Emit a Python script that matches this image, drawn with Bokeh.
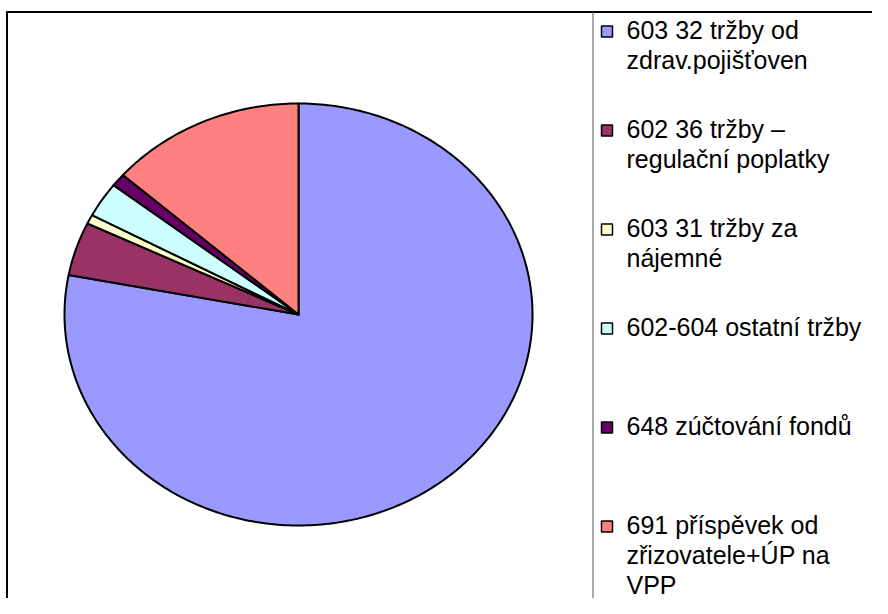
import numpy as np
from bokeh.plotting import figure
from bokeh.models import Range1d
from bokeh.core.properties import value
from bokeh.embed import file_html
from bokeh.resources import INLINE

# ---- data ----
categories = [
    "603 32 tržby od\nzdrav.pojišťoven",
    "602 36 tržby –\nregulační poplatky",
    "603 31 tržby za\nnájemné",
    "602-604 ostatní tržby",
    "648 zúčtování fondů",
    "691 příspěvek od\nzřizovatele+ÚP na\nVPP",
]
shares = [78.0, 4.1, 0.7, 2.7, 1.0, 13.5]
colors = ["#9999FF", "#993366", "#FFFFCC", "#CCFFFF", "#660066", "#FF8080"]

W, H = 872, 598
p = figure(width=W, height=H, output_backend="svg", toolbar_location=None,
           x_range=Range1d(0, W), y_range=Range1d(H, 0), min_border=0)
p.axis.visible = False
p.xgrid.visible = False
p.ygrid.visible = False
p.outline_line_color = None
p.background_fill_color = "white"

# pie (elliptical, clockwise from 12 o'clock)
cx, cy, rx, ry = 298, 314, 234, 211
total = float(sum(shares))
xs, ys = [], []
start = 0.0
for v in shares:
    frac = v / total
    a0, a1 = start * 2 * np.pi, (start + frac) * 2 * np.pi
    n = max(3, int(frac * 400))
    t = np.linspace(a0, a1, n)
    xs.append([cx] + list(cx + rx * np.sin(t)) + [cx])
    ys.append([cy] + list(cy - ry * np.cos(t)) + [cy])
    start += frac
p.patches(xs, ys, fill_color=colors, line_color="black", line_width=2, line_join="round")

# chart frame lines
p.line([6, W], [11.5, 11.5], line_color="black", line_width=2)
p.line([6.5, 6.5], [11, H], line_color="black", line_width=2)
# legend box left border
p.line([592.5, 592.5], [11.5, H], line_color="#555555", line_width=1)

# legend
item_y0, item_dy, line_dy = 29, 99, 30
sq_x = 606.5
txt_x, txt_y, txt, sq_y = [], [], [], []
for i, lab in enumerate(categories):
    y0 = item_y0 + i * item_dy
    sq_y.append(y0 + 2)
    for k, ln in enumerate(lab.split("\n")):
        txt_x.append(626)
        txt_y.append(y0 + k * line_dy)
        txt.append(ln)
p.rect(x=[sq_x] * len(categories), y=sq_y, width=11, height=11,
       fill_color=colors, line_color="black", line_width=1.5)
p.text(x=txt_x, y=txt_y, text=txt, text_font=value("Liberation Sans"),
       text_font_size="25px", text_baseline="middle", text_align="left",
       text_color="black")

open("out.html", "w").write(file_html(p, INLINE))
